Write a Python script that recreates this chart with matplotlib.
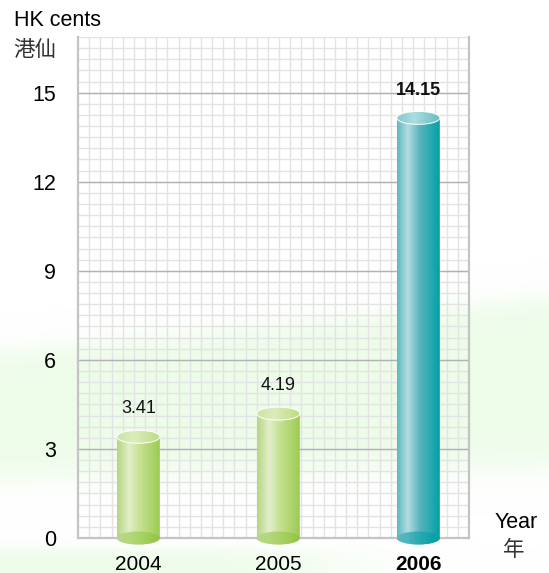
import numpy as np
import matplotlib.pyplot as plt
from matplotlib.patches import Polygon, Ellipse

plt.rcParams['font.family'] = ['Liberation Sans', 'Noto Sans CJK TC']

years = ['2004', '2005', '2006']
values = [3.41, 4.19, 14.15]
value_labels = ['3.41', '4.19', '14.15']
highlight = [False, False, True]
y_ticks = [0, 3, 6, 9, 12, 15]

W, H = 549, 573
fig = plt.figure(figsize=(W / 100, H / 100), dpi=100, facecolor='white')

# soft green wash behind the chart
bg = fig.add_axes([0, 0, 1, 1], zorder=-1)
X, Y = np.meshgrid(np.arange(W), np.arange(H))
sig = lambda z: 1 / (1 + np.exp(-z))
upper = 352 - 55 * X / W
lower = 478 - 12 * X / W
band = sig((Y - upper) / 7) * sig((lower - Y) / 9)
bottom = sig((Y - 549) / 4) * sig((330 - X) / 45)
alpha = 0.85 * np.maximum(band, bottom)
wash = np.zeros((H, W, 4))
wash[..., 0] = 234 / 255
wash[..., 1] = 251 / 255
wash[..., 2] = 229 / 255
wash[..., 3] = alpha
bg.imshow(wash, extent=[0, W, H, 0], aspect='auto', interpolation='bilinear')
bg.set_xlim(0, W)
bg.set_ylim(H, 0)
bg.axis('off')

ax = fig.add_axes([78 / W, 35 / H, 391 / W, 501 / H])
ax.set_facecolor('none')

xlim = (-0.431, 2.362)
ylim = (0, 16.875)
xstep = 11.17 / 140


def gradient(stops, n=256):
    pos = [p for p, c in stops]
    cols = np.array([plt.matplotlib.colors.to_rgb(c) for p, c in stops])
    t = np.linspace(0, 1, n)
    g = np.stack([np.interp(t, pos, cols[:, k]) for k in range(3)], axis=-1)
    return g[np.newaxis, :, :]


green = dict(
    body=[(0, '#b4d680'), (0.28, '#e2eecb'), (0.55, '#c4e08e'), (1, '#9ccb52')],
    top=[(0, '#cce4a4'), (0.4, '#dcecbc'), (1, '#bcdc80')],
    base=[(0, '#b6d88a'), (0.5, '#a8d264'), (1, '#92c444')],
)
teal = dict(
    body=[(0, '#5db7bf'), (0.25, '#b3dde1'), (0.55, '#55b3bb'), (1, '#00a0a8')],
    top=[(0, '#84cacf'), (0.4, '#acdce0'), (1, '#64bec4')],
    base=[(0, '#5cb8c0'), (0.5, '#26a8b0'), (1, '#009ea6')],
)


def cylinder(ax, x, h, w, eh, cols):
    x0, x1 = x - w / 2, x + w / 2
    t = np.linspace(0, np.pi, 80)
    bx = x + (w / 2) * np.cos(t)
    by = -(eh / 2) * np.sin(t)
    verts = [(x0, h), (x1, h)] + list(zip(bx, by))
    body = Polygon(verts, closed=True, facecolor='none', edgecolor='none', zorder=3)
    ax.add_patch(body)
    im = ax.imshow(gradient(cols['body']), extent=[x0, x1, -eh / 2, h],
                   aspect='auto', interpolation='bicubic', zorder=3)
    im.set_clip_box(fig.bbox)
    im.set_clip_path(body)

    base = Ellipse((x, 0), w, eh, facecolor='none', edgecolor='none', zorder=4)
    ax.add_patch(base)
    im = ax.imshow(gradient(cols['base']), extent=[x0, x1, -eh / 2, eh / 2],
                   aspect='auto', interpolation='bicubic', zorder=4, alpha=0.9)
    im.set_clip_box(fig.bbox)
    im.set_clip_path(base)

    top = Ellipse((x, h), w, eh, facecolor='none', edgecolor='none', zorder=5)
    ax.add_patch(top)
    im = ax.imshow(gradient(cols['top']), extent=[x0, x1, h - eh / 2, h + eh / 2],
                   aspect='auto', interpolation='bicubic', zorder=5)
    im.set_clip_path(top)
    ax.add_patch(Ellipse((x, h), w, eh, facecolor='none', edgecolor='white',
                         lw=0.8, alpha=0.9, zorder=6))


bar_w = 43 / 140
ell_h = 13 / 29.67
for i, (v, hl) in enumerate(zip(values, highlight)):
    cylinder(ax, i, v, bar_w, ell_h, teal if hl else green)
    ax.annotate(value_labels[i], (i, v), xytext=(0, 20), textcoords='offset points',
                ha='center', va='center', fontsize=13,
                fontweight='bold' if hl else 'normal', color='#111111', zorder=7)

ax.set_xlim(*xlim)
ax.set_ylim(*ylim)

# fine grid
for xv in np.arange(xlim[0] + xstep, xlim[1] - xstep / 2, xstep):
    ax.axvline(xv, color='#e3e3e3', lw=1, zorder=1)
for yv in np.arange(0.375, ylim[1] + 0.01, 0.375):
    ax.axhline(yv, color='#e3e3e3', lw=1, zorder=1)
for yv in y_ticks[1:]:
    ax.axhline(yv, color='#b2b2b2', lw=1, zorder=2)

for side in ['left', 'right', 'bottom']:
    ax.spines[side].set_color('#c4c4c4')
    ax.spines[side].set_linewidth(1.6)
    ax.spines[side].set_zorder(2)
ax.spines['top'].set_visible(False)

ax.set_yticks(y_ticks)
ax.set_yticklabels([str(t) for t in y_ticks], fontsize=15.5)
ax.set_xticks(range(len(years)))
ax.set_xticklabels(years, fontsize=15)
for lab, hl in zip(ax.get_xticklabels(), highlight):
    if hl:
        lab.set_fontweight('bold')
ax.tick_params(axis='y', length=0, pad=16)
ax.tick_params(axis='x', length=0, pad=12)

fig.text(14 / W, 1 - 20 / H, 'HK cents', fontsize=15.5, va='center', ha='left')
fig.text(13 / W, 1 - 50 / H, '港仙', fontsize=15.5, va='center', ha='left', color='#333333')
fig.text(516 / W, 1 - 523 / H, 'Year', fontsize=15.5, va='center', ha='center')
fig.text(514 / W, 1 - 551 / H, '年', fontsize=15.5, va='center', ha='center', color='#333333')

fig.savefig('out.png', dpi=100, facecolor='white')
